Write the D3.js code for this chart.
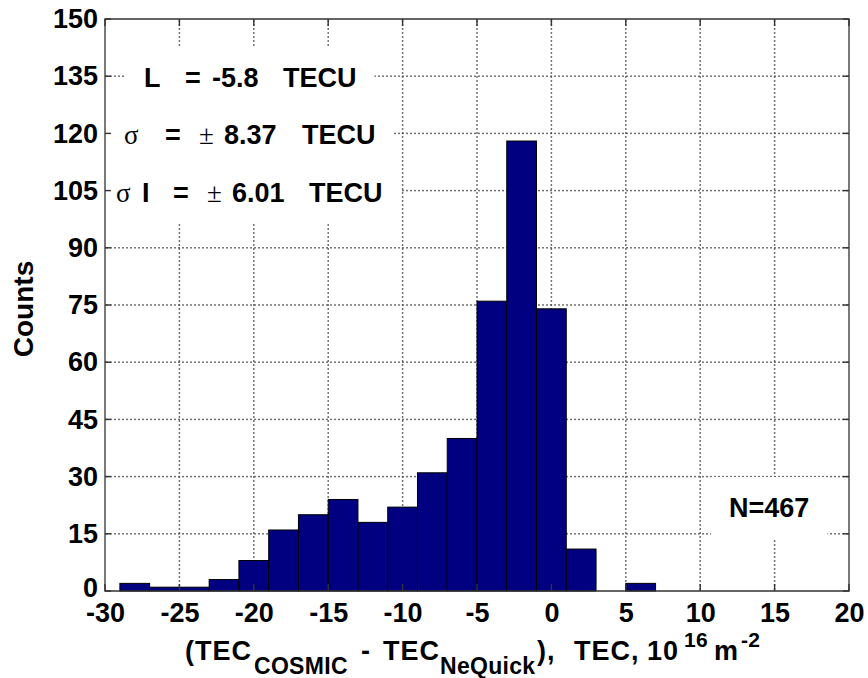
<!DOCTYPE html>
<html>
<head>
<meta charset="utf-8">
<script src="https://cdn.jsdelivr.net/npm/d3@7"></script>
<style>
  html, body { margin: 0; padding: 0; background: #fff; }
  svg { display: block; }
  text { font-family: "Liberation Sans", Arial, sans-serif; font-weight: bold; fill: #000; }
</style>
</head>
<body>
<svg id="chart" width="868" height="678"></svg>
<script>
// Histogram of TEC differences (COSMIC minus NeQuick), 2 TECU bins
const binEdgesLow = [-29, -27, -25, -23, -21, -19, -17, -15, -13, -11, -9, -7, -5, -3, -1, 1, 3, 5];
const binWidth = 2;
const counts = [2, 1, 1, 3, 8, 16, 20, 24, 18, 22, 31, 40, 76, 118, 74, 11, 0, 2];
const xTicks = [-30, -25, -20, -15, -10, -5, 0, 5, 10, 15, 20];
const yTicks = [0, 15, 30, 45, 60, 75, 90, 105, 120, 135, 150];
const sampleSize = 467;

const W = 868, H = 678;
const margin = { left: 105, right: 19, top: 19, bottom: 87 };
const svg = d3.select("#chart");

const x = d3.scaleLinear().domain([-30, 20]).range([margin.left, W - margin.right]);
const y = d3.scaleLinear().domain([0, 150]).range([H - margin.bottom, margin.top]);
const plain = d => String(d);   // hyphen-minus tick labels
const [x0, x1] = x.range(), [y0, y1] = y.range();   // y0 bottom, y1 top

// dotted grid: small square dots along each grid line
const dot = 1.5, step = 4;
const gridDots = [];
xTicks.slice(1, -1).forEach(d => {
  for (let v = y1 + 2; v < y0; v += step) gridDots.push({ cx: x(d), cy: v });
});
yTicks.slice(1, -1).forEach(d => {
  for (let u = x0 + 2; u < x1; u += step) gridDots.push({ cx: u, cy: y(d) });
});
svg.append("g").selectAll("rect").data(gridDots).join("rect")
  .attr("x", d => d.cx - dot / 2).attr("y", d => d.cy - dot / 2)
  .attr("width", dot).attr("height", dot).attr("fill", "#444");

// bars
svg.append("g").selectAll("rect").data(binEdgesLow.map((lo, i) => ({ lo, c: counts[i] })))
  .join("rect")
  .attr("x", d => x(d.lo))
  .attr("width", d => x(d.lo + binWidth) - x(d.lo))
  .attr("y", d => y(d.c))
  .attr("height", d => y(0) - y(d.c))
  .attr("fill", "#000080")
  .attr("stroke", d => d.c > 0 ? "#000" : "none")
  .attr("stroke-width", 1);

// annotation texts with white boxes
const boxLayer = svg.append("g");
const textLayer = svg.append("g");
const pad = 18;

function addNote(pieces, baseline) {
  const t = textLayer.append("text").attr("y", baseline).attr("font-size", 27);
  pieces.forEach(p => {
    const ts = t.append("tspan").attr("x", p.x).text(p.s);
    if (p.sym) ts.attr("font-family", "'Liberation Serif', 'DejaVu Serif', serif")
      .attr("font-weight", "normal").attr("font-size", 27);
  });
  const b = t.node().getBBox();
  boxLayer.append("rect")
    .attr("x", b.x - pad).attr("y", b.y - pad + 2)
    .attr("width", b.width + 2 * pad).attr("height", b.height + 2 * pad - 4)
    .attr("fill", "#fff");
}

addNote([{ s: "L", x: 144 }, { s: "=", x: 185 }, { s: "-5.8", x: 212 }, { s: "TECU", x: 283 }], 86.5);
addNote([{ s: "σ", x: 124, sym: true }, { s: "=", x: 165 }, { s: "±", x: 199, sym: true },
         { s: "8.37", x: 224 }, { s: "TECU", x: 302 }], 144);
addNote([{ s: "σ", x: 116, sym: true }, { s: "I", x: 142 }, { s: "=", x: 173 }, { s: "±", x: 207, sym: true },
         { s: "6.01", x: 232 }, { s: "TECU", x: 309 }], 202);
addNote([{ s: "N=" + sampleSize, x: 729 }], 517);

// axis labels via d3 axes; tick marks drawn separately, pointing inward
const fontSize = 27;
const gx = svg.append("g").attr("transform", `translate(0,${y0})`)
  .call(d3.axisBottom(x).tickValues(xTicks).tickSize(0).tickPadding(12).tickFormat(plain));
const gy = svg.append("g").attr("transform", `translate(${x0},0)`)
  .call(d3.axisLeft(y).tickValues(yTicks).tickSize(0).tickPadding(7).tickFormat(plain));
[gx, gy].forEach(g => {
  g.select(".domain").remove();
  g.selectAll(".tick line").remove();
  g.selectAll(".tick text").attr("font-size", fontSize)
    .attr("font-family", "'Liberation Sans', Arial, sans-serif").attr("font-weight", "bold").attr("fill", "#000");
});
gx.selectAll(".tick text").attr("dy", "0.7em");
gy.selectAll(".tick text").filter(d => d === 0).attr("dy", "0.2em");

// inward tick marks as thin filled rects
const tickMarks = [];
xTicks.forEach(d => {
  tickMarks.push({ x: x(d) - 0.7, y: y0 - 7, w: 1.4, h: 7 });
  tickMarks.push({ x: x(d) - 0.7, y: y1, w: 1.4, h: 7 });
});
yTicks.forEach(d => {
  tickMarks.push({ x: x0, y: y(d) - 0.7, w: 6, h: 1.4 });
  tickMarks.push({ x: x1 - 6, y: y(d) - 0.7, w: 6, h: 1.4 });
});
svg.append("g").selectAll("rect").data(tickMarks).join("rect")
  .attr("x", d => d.x).attr("y", d => d.y).attr("width", d => d.w).attr("height", d => d.h)
  .attr("fill", "#333");

// axes box
svg.append("path").attr("d", `M${x0},${y1}H${x1}V${y0}H${x0}Z`)
  .attr("fill", "none").attr("stroke", "#333").attr("stroke-width", 1.3);

// axis titles
svg.append("text")
  .attr("transform", `translate(33,${(y0 + y1) / 2 + 4}) rotate(-90)`)
  .attr("text-anchor", "middle").attr("font-size", 28).text("Counts");

// x title: main text, subscripts and superscripts placed piece by piece
const xTitle = [
  { s: "(TEC", x: 185, k: "main" },
  { s: "COSMIC", x: 254, k: "sub" },
  { s: "-", x: 361, k: "main" },
  { s: "TEC", x: 383, k: "main" },
  { s: "NeQuick", x: 440, k: "sub" },
  { s: "),", x: 537, k: "main" },
  { s: "TEC,", x: 574, k: "main" },
  { s: "10", x: 647, k: "main" },
  { s: "16", x: 684, k: "sup" },
  { s: "m", x: 714, k: "main" },
  { s: "-2", x: 741, k: "sup" }
];
const xl = svg.append("text").attr("font-size", 27);
const shift = { main: 0, sub: 14, sup: -13 };
xTitle.forEach(p => {
  xl.append("tspan").attr("x", p.x).attr("y", 660 + shift[p.k])
    .attr("font-size", p.k === "main" ? 27 : (p.k === "sub" ? 23 : 21))
    .attr("letter-spacing", p.k === "main" ? 1 : 0.3)
    .text(p.s);
});
</script>
</body>
</html>
